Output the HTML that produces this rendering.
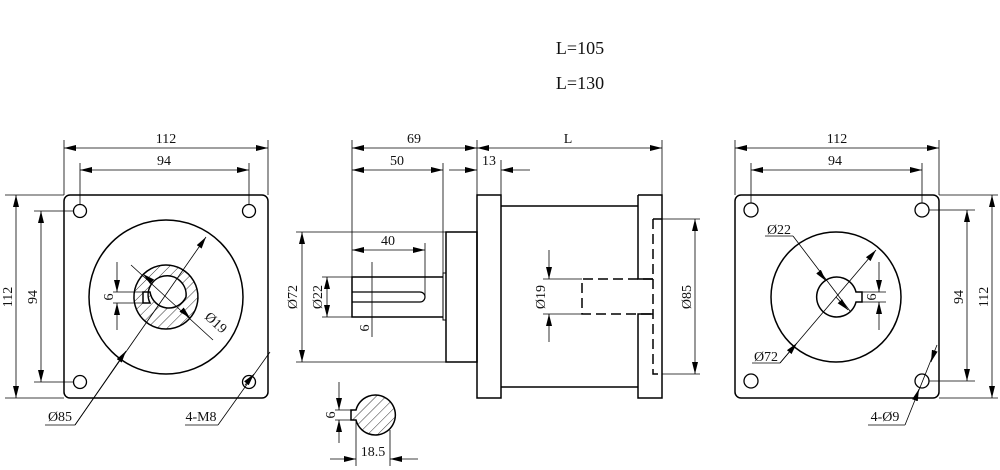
<!DOCTYPE html>
<html><head><meta charset="utf-8"><style>
html,body{margin:0;padding:0;background:#fff;}
svg{display:block;}
text{font-family:"Liberation Serif",serif;font-size:14px;fill:#111;}
</style></head><body>
<svg width="1000" height="470" viewBox="0 0 1000 470" xmlns="http://www.w3.org/2000/svg">
<defs>
<marker id="a" viewBox="0 0 12 6" refX="12" refY="3" markerWidth="12" markerHeight="6" orient="auto-start-reverse" markerUnits="userSpaceOnUse"><path d="M0,0 L12,3 L0,6 Z" fill="#000"/></marker>
<pattern id="h" width="7" height="7" patternUnits="userSpaceOnUse" patternTransform="rotate(45)"><line x1="0" y1="0" x2="0" y2="7" stroke="#000" stroke-width="0.8"/></pattern>
</defs>
<text x="580" y="54" text-anchor="middle" style="font-size:18px">L=105</text>
<text x="580" y="89" text-anchor="middle" style="font-size:18px">L=130</text>

<g stroke="#000" fill="none">
<!-- LEFT VIEW -->
<rect x="64" y="195" width="204" height="203" rx="6" stroke-width="1.5"/>
<circle cx="80" cy="211" r="6.5" stroke-width="1.3"/>
<circle cx="249" cy="211" r="6.5" stroke-width="1.3"/>
<circle cx="80" cy="382" r="6.5" stroke-width="1.3"/>
<circle cx="249" cy="382" r="6.5" stroke-width="1.3"/>
<circle cx="166" cy="297" r="77" stroke-width="1.5"/>
<path d="M166,265 A32,32 0 1 1 165.9,265 Z M186,297 A19,19 0 1 0 150,303 L143,303 L143,292 L150,292 A19,19 0 0 0 186,297 Z" fill="url(#h)" fill-rule="evenodd" stroke-width="1.5"/>
<g stroke-width="0.8">
<line x1="64" y1="140" x2="64" y2="195"/><line x1="268" y1="140" x2="268" y2="195"/>
<line x1="64" y1="148" x2="268" y2="148" marker-start="url(#a)" marker-end="url(#a)"/>
<line x1="80" y1="163" x2="80" y2="205"/><line x1="249" y1="163" x2="249" y2="205"/>
<line x1="80" y1="170" x2="249" y2="170" marker-start="url(#a)" marker-end="url(#a)"/>
<line x1="5" y1="195" x2="64" y2="195"/><line x1="5" y1="398" x2="64" y2="398"/>
<line x1="16" y1="195" x2="16" y2="398" marker-start="url(#a)" marker-end="url(#a)"/>
<line x1="34" y1="211" x2="74" y2="211"/><line x1="34" y1="382" x2="74" y2="382"/>
<line x1="41" y1="211" x2="41" y2="382" marker-start="url(#a)" marker-end="url(#a)"/>
<line x1="113" y1="292" x2="150" y2="292"/><line x1="113" y1="303" x2="150" y2="303"/>
<line x1="117" y1="262" x2="117" y2="292" marker-end="url(#a)"/>
<line x1="117" y1="330" x2="117" y2="303" marker-end="url(#a)"/>
<line x1="75" y1="425" x2="45" y2="425"/>
<line x1="75" y1="425" x2="206" y2="237" marker-end="url(#a)"/>
<line x1="75" y1="425" x2="126" y2="351" marker-end="url(#a)"/>
<line x1="131" y1="265" x2="213" y2="340"/>
<line x1="150" y1="280" x2="143" y2="274" marker-end="url(#a)"/>
<line x1="184" y1="312" x2="190" y2="318" marker-end="url(#a)"/>
<line x1="218" y1="425" x2="185" y2="425"/>
<line x1="218" y1="425" x2="270" y2="352"/>
<line x1="245" y1="385" x2="254" y2="374" marker-end="url(#a)"/>
</g>

<!-- MIDDLE VIEW -->
<g stroke-width="1.5">
<rect x="477" y="195" width="24" height="203"/>
<line x1="501" y1="206" x2="638" y2="206"/><line x1="501" y1="387" x2="638" y2="387"/>
<path d="M638,195 L662,195 L662,398 L638,398 L638,314 L653,314 M638,195 L638,279 L653,279"/>
<rect x="446" y="232" width="31" height="130"/>
<rect x="443" y="273" width="3" height="47" stroke-width="1"/>
<path d="M443,277 L352,277 L352,317 L443,317"/>
<path d="M352,292 L420,292 A5,5 0 0 1 420,302 L352,302" stroke-width="1.2"/>
</g>
<g stroke-width="1.5" stroke-dasharray="10,5">
<path d="M653,219 L662,219 M653,219 L653,374 L662,374"/>
<path d="M653,279 L582,279 L582,314 L653,314"/>
</g>
<g stroke-width="0.8">
<line x1="352" y1="140" x2="352" y2="277"/><line x1="477" y1="140" x2="477" y2="195"/><line x1="662" y1="140" x2="662" y2="195"/>
<line x1="352" y1="148" x2="477" y2="148" marker-start="url(#a)" marker-end="url(#a)"/>
<line x1="477" y1="148" x2="662" y2="148" marker-start="url(#a)" marker-end="url(#a)"/>
<line x1="443" y1="163" x2="443" y2="273"/><line x1="501" y1="160" x2="501" y2="195"/>
<line x1="352" y1="170" x2="443" y2="170" marker-start="url(#a)" marker-end="url(#a)"/>
<line x1="449" y1="170" x2="477" y2="170" marker-end="url(#a)"/>
<line x1="530" y1="170" x2="501" y2="170" marker-end="url(#a)"/>
<line x1="425" y1="243" x2="425" y2="298"/>
<line x1="352" y1="250" x2="425" y2="250" marker-start="url(#a)" marker-end="url(#a)"/>
<line x1="372" y1="262" x2="372" y2="337"/>
<line x1="296" y1="232" x2="446" y2="232"/><line x1="296" y1="362" x2="446" y2="362"/>
<line x1="302" y1="232" x2="302" y2="362" marker-start="url(#a)" marker-end="url(#a)"/>
<line x1="322" y1="277" x2="352" y2="277"/><line x1="322" y1="317" x2="352" y2="317"/>
<line x1="327" y1="277" x2="327" y2="317" marker-start="url(#a)" marker-end="url(#a)"/>
<line x1="543" y1="279" x2="582" y2="279"/><line x1="543" y1="314" x2="582" y2="314"/>
<line x1="549" y1="250" x2="549" y2="279" marker-end="url(#a)"/>
<line x1="549" y1="342" x2="549" y2="314" marker-end="url(#a)"/>
<line x1="662" y1="219" x2="700" y2="219"/><line x1="662" y1="374" x2="700" y2="374"/>
<line x1="695" y1="219" x2="695" y2="374" marker-start="url(#a)" marker-end="url(#a)"/>
</g>

<!-- SECTION -->
<path d="M356,410 A20,20 0 1 1 356,420 L351,420 L351,410 Z" fill="url(#h)" stroke-width="1.5"/>
<g stroke-width="0.8">
<line x1="335" y1="410" x2="356" y2="410"/><line x1="335" y1="420" x2="356" y2="420"/>
<line x1="339" y1="382" x2="339" y2="410" marker-end="url(#a)"/>
<line x1="339" y1="443" x2="339" y2="420" marker-end="url(#a)"/>
<line x1="356" y1="420" x2="356" y2="466"/><line x1="390" y1="430" x2="390" y2="466"/>
<line x1="330" y1="459" x2="356" y2="459" marker-end="url(#a)"/>
<line x1="418" y1="459" x2="390" y2="459" marker-end="url(#a)"/>
</g>

<!-- RIGHT VIEW -->
<rect x="735" y="195" width="204" height="203" rx="6" stroke-width="1.5"/>
<circle cx="751" cy="210" r="7" stroke-width="1.3"/>
<circle cx="922" cy="210" r="7" stroke-width="1.3"/>
<circle cx="751" cy="381" r="7" stroke-width="1.3"/>
<circle cx="922" cy="381" r="7" stroke-width="1.3"/>
<circle cx="836" cy="297" r="65" stroke-width="1.5"/>
<path d="M856,292 A20,20 0 1 0 856,302 L862,302 L862,292 Z" stroke-width="1.5"/>
<g stroke-width="0.8">
<line x1="735" y1="140" x2="735" y2="195"/><line x1="939" y1="140" x2="939" y2="195"/>
<line x1="735" y1="148" x2="939" y2="148" marker-start="url(#a)" marker-end="url(#a)"/>
<line x1="751" y1="163" x2="751" y2="203"/><line x1="922" y1="163" x2="922" y2="203"/>
<line x1="751" y1="170" x2="922" y2="170" marker-start="url(#a)" marker-end="url(#a)"/>
<line x1="939" y1="195" x2="998" y2="195"/><line x1="939" y1="398" x2="998" y2="398"/>
<line x1="992" y1="195" x2="992" y2="398" marker-start="url(#a)" marker-end="url(#a)"/>
<line x1="929" y1="210" x2="975" y2="210"/><line x1="929" y1="381" x2="975" y2="381"/>
<line x1="967" y1="210" x2="967" y2="381" marker-start="url(#a)" marker-end="url(#a)"/>
<line x1="862" y1="292" x2="886" y2="292"/><line x1="862" y1="302" x2="886" y2="302"/>
<line x1="879" y1="262" x2="879" y2="292" marker-end="url(#a)"/>
<line x1="879" y1="330" x2="879" y2="302" marker-end="url(#a)"/>
<line x1="765" y1="236" x2="793" y2="236"/>
<line x1="793" y1="236" x2="850" y2="311"/>
<line x1="826" y1="281" x2="822" y2="276" marker-start="url(#a)"/>
<line x1="836" y1="297" x2="848" y2="310" marker-end="url(#a)"/>
<line x1="752" y1="363" x2="780" y2="363"/>
<line x1="780" y1="363" x2="876" y2="250" marker-end="url(#a)"/>
<line x1="780" y1="363" x2="797" y2="343" marker-end="url(#a)"/>
<line x1="868" y1="425" x2="905" y2="425"/>
<line x1="905" y1="425" x2="937" y2="345"/>
<line x1="915" y1="400" x2="919" y2="389" marker-end="url(#a)"/>
<line x1="935" y1="350" x2="931" y2="362" marker-end="url(#a)"/>
</g>
</g>

<!-- labels -->
<text x="166" y="143" text-anchor="middle">112</text>
<text x="164" y="165" text-anchor="middle">94</text>
<text transform="translate(12,297) rotate(-90)" text-anchor="middle">112</text>
<text transform="translate(37,297) rotate(-90)" text-anchor="middle">94</text>
<text transform="translate(113,297) rotate(-90)" text-anchor="middle">6</text>
<text transform="translate(213,326) rotate(42)" text-anchor="middle">Ø19</text>
<text x="60" y="421" text-anchor="middle">Ø85</text>
<text x="201" y="421" text-anchor="middle">4-M8</text>

<text x="414" y="143" text-anchor="middle">69</text>
<text x="568" y="143" text-anchor="middle">L</text>
<text x="397" y="165" text-anchor="middle">50</text>
<text x="489" y="165" text-anchor="middle">13</text>
<text x="388" y="245" text-anchor="middle">40</text>
<text transform="translate(297,297) rotate(-90)" text-anchor="middle">Ø72</text>
<text transform="translate(322,297) rotate(-90)" text-anchor="middle">Ø22</text>
<text transform="translate(369,328) rotate(-90)" text-anchor="middle">6</text>
<text transform="translate(545,297) rotate(-90)" text-anchor="middle">Ø19</text>
<text transform="translate(691,297) rotate(-90)" text-anchor="middle">Ø85</text>
<text transform="translate(335,415) rotate(-90)" text-anchor="middle">6</text>
<text x="373" y="456" text-anchor="middle">18.5</text>

<text x="837" y="143" text-anchor="middle">112</text>
<text x="835" y="165" text-anchor="middle">94</text>
<text transform="translate(963,297) rotate(-90)" text-anchor="middle">94</text>
<text transform="translate(988,297) rotate(-90)" text-anchor="middle">112</text>
<text transform="translate(876,297) rotate(-90)" text-anchor="middle">6</text>
<text x="779" y="234" text-anchor="middle">Ø22</text>
<text x="766" y="361" text-anchor="middle">Ø72</text>
<text x="885" y="421" text-anchor="middle">4-Ø9</text>
</svg>
</body></html>
